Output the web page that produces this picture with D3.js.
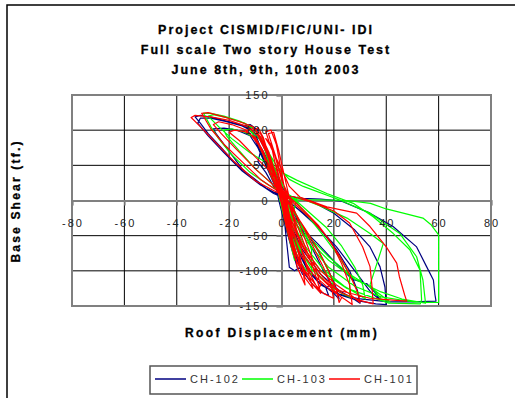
<!DOCTYPE html>
<html>
<head>
<meta charset="utf-8">
<script src="https://cdn.jsdelivr.net/npm/d3@7"></script>
<style>
  html, body { margin: 0; padding: 0; background: #fff; }
  svg { display: block; }
  text { font-family: "Liberation Sans", Arial, sans-serif; }
</style>
</head>
<body>
<script>
// ---------- DATA ----------
const titleLines = ["Project CISMID/FIC/UNI- IDI", "Full scale Two story House Test", "June 8th, 9th, 10th 2003"];
const xLabel = "Roof Displacement (mm)";
const yLabel = "Base Shear (tf.)";
const xTicks = [-80, -60, -40, -20, 0, 20, 40, 60, 80];
const yTicks = [-150, -100, -50, 0, 50, 100, 150];
const seriesNames = ["CH-102", "CH-103", "CH-101"];
const seriesColors = ["#000080", "#00ff00", "#ff0000"];

// CH-102 (displacement mm, base shear tf)
const ch102 = [
  [0,0],[1,-20],[3,-50],[5,-80],[6,-95],[4,-70],[1,-30],[-1,0],[-3,35],[-6,75],[-8,90],[-6,70],[-3,35],[0,0],
  [2,-30],[5,-70],[8,-100],[12,-120],[15,-130],[18,-135],[17,-125],[19,-118],[16,-100],[12,-70],[7,-35],[3,-5],[0,15],
  [-3,40],[-7,70],[-11,95],[-14,107],[-12,108],[-9,100],[-10,85],[-8,70],[-9,55],[-6,40],[-3,20],[0,5],
  [1,-25],[2,-60],[3,-95],[5,-100],[7,-95],
  [3,-40],[8,-85],[14,-115],[20,-132],[22,-140],[21,-125],[18,-100],[14,-72],[9,-42],[4,-15],[0,5],
  [-3,10],[-9,25],[-15,45],[-20,70],[-25,95],[-26,102],[-22,103],[-17,100],[-12,92],[-9,75],[-6,50],[-3,25],[0,0],
  [10,-100],[16,-122],[22,-134],[30,-143],[36,-147],[40,-148],[39.5,-123],[37.6,-94],[33.8,-66],[28,-42],[20,-18],[12,-2],[5,5],
  [0,8],[-5,15],[-10,30],[-17,50],[-23,75],[-28,95],[-31,110],[-33,119],[-31,121],[-26,118],[-20,112],[-14,106],[-12,104],
  [-10,90],[-8,70],[-6,50],[-3,25],[0,0],
  [3,-30],[8,-70],[15,-105],[22,-128],[28,-141],[30,-146],[29,-128],[26,-100],[21,-70],[15,-42],[9,-20],[3,-2],
  [4,-20],[8,-40],[14,-62],[21,-90],[27,-112],[32.5,-118],[36,-132],[37.6,-141],[34,-130],[28,-100],[21,-66],[14,-38],[8,-18],[3,-2],
  [-2,10],[-8,22],[-15,42],[-22,68],[-28,92],[-32,110],[-31,117],[-27,117],[-21,112],[-15,106],[-11,98],[-9,80],[-7,60],[-4,35],[0,5],
  [3,-35],[6,-70],[10,-100],[15,-120],[22,-133],[30,-140],[41,-144],[50,-144],[59,-143],[58.6,-134],[58,-113],
  [55.4,-94],[51.6,-66],[42.6,-37],[33.8,-18],[23,-1],[15,2],[8,3],
  [3,5],[0,20],[-4,55],[-8,85],[-10,95],[-8,75],[-4,35],[0,0],[3,-40],[6,-85],[8,-105],[6,-80],[2,-30],[0,0]
];

// CH-103
const ch103 = [
  [0,0],[2,-35],[4,-70],[5,-85],[3,-55],[0,-10],[-2,25],[-5,60],[-7,80],[-5,55],[-2,20],[0,0],
  [3,-40],[6,-80],[9,-97],[11.5,-106],[11.5,-70],[9,-45],[5,-15],[2,10],[-2,40],[-6,75],[-10,95],[-12,100],[-10,90],[-7,65],[-4,35],[0,5],
  [3,-35],[8,-75],[14,-105],[18,-120],[20,-128],[19,-110],[16,-85],[12,-58],[7,-30],[3,-8],[0,10],
  [-4,25],[-10,45],[-16,70],[-21,92],[-22,100],[-19,102],[-14,97],[-10,88],[-7,68],[-4,40],[-1,12],
  [3,-30],[7,-70],[12,-100],[18,-120],[23,-132],[26,-137],[26,-105],[22,-80],[16,-50],[10,-22],[5,0],[0,12],
  [-5,22],[-12,40],[-19,65],[-24,88],[-27,105],[-29.8,124],[-27,124],[-22,120],[-16,113],[-11,104],[-8,90],[-5,65],[-2,35],[1,5],
  [4,-30],[9,-65],[16,-98],[24,-122],[30,-135],[32,-140],[31,-120],[28,-95],[23,-65],[17,-38],[10,-15],[4,5],
  [4,-30],[8,-65],[15,-100],[25,-125],[35,-138],[41,-146],[53,-147],[53.5,-141],[52.9,-99],[49,-70],[42.7,-47],[35,-23],[27.4,-4],[17.3,10],[5.8,29],
  [0,40],[-5,52],[-12,68],[-19,88],[-24,105],[-28,120],[-26,122],[-20,117],[-14,110],[-10,100],[-7,80],[-4,50],[0,10],
  [4,-25],[10,-55],[18,-85],[28,-112],[38,-130],[46,-140],[55,-146],[54,-113],[51.6,-80],[45.2,-47],[33.8,-18],[22.3,0.7],[8.3,20],
  [3,30],[-2,50],[-6,75],[-9,92],[-7,85],[-4,55],[0,15],
  [4,-20],[10,-50],[18,-80],[26,-105],[33.8,-123],[41.4,-144],[38,-140],[33.8,-120],[38.9,-61],[33.8,-47],[25,-25],[15,-8],[6,5],
  [4,-25],[10,-60],[18,-95],[28,-122],[38,-137],[50,-144],[60,-145],[60,-100],[60,-49],[57,-34],[54,-25],[46.5,-18],[40,-12],[34,-4],[25,0],[15,1],[6,1],
  [2,10],[-2,40],[-5,70],[-3,45],[0,10],[3,-40],[7,-80],[5,-50],[2,-10]
];

// CH-101
const ch101 = [
  [0,0],[1,-25],[3,-55],[5,-80],[6,-90],[4,-60],[1,-20],[-1,10],[-3,40],[-6,75],[-7,85],[-5,60],[-2,25],[0,-5],
  [2,-40],[5,-80],[7.7,-101],[6,-80],[3,-40],[0,0],[-3,40],[-7,80],[-10,100],[-9,104],[-7,90],[-4,55],[-1,15],
  [2,-30],[5,-70],[9,-100],[13,-120],[16,-132],[19.8,-139],[19,-120],[16,-95],[12,-65],[8,-35],[4,-10],[0,15],
  [-4,45],[-8,75],[-12,95],[-13.3,100],[-11,102],[-8,95],[-5,70],[-2,35],[1,0],
  [3,-45],[7,-90],[11,-115],[15,-132],[14,-118],[12,-95],[9,-65],[6,-35],[3,-5],[0,20],
  [-4,40],[-10,62],[-16,85],[-20,97],[-18,100],[-14,98],[-10,90],[-7,70],[-4,40],[-1,10],
  [3,-35],[7,-75],[12,-105],[18,-125],[24,-140],[27,-148],[26,-120],[23,-90],[19,-60],[14,-35],[8,-12],[3,5],
  [-2,15],[-8,30],[-15,55],[-22,80],[-27,102],[-30.5,124],[-28,125],[-22,119],[-16,112],[-11,105],[-8,90],[-5,65],[-2,30],[1,-5],
  [4,-40],[9,-80],[15,-110],[20,-128],[23,-138],[22,-145],[21,-128],[18,-100],[14,-70],[9,-40],[4,-12],[0,10],
  [-4,25],[-10,45],[-17,72],[-23,95],[-26,108],[-24,112],[-19,108],[-14,101],[-10,88],[-7,65],[-4,35],[0,0],
  [4,-40],[9,-80],[15,-110],[22,-130],[30,-142],[35,-147],[34.5,-120],[33.8,-94],[31,-66],[26,-32],[20,-15],[12,-3],[5,5],
  [-2,12],[-10,28],[-18,55],[-25,82],[-31,105],[-34.5,118],[-33,121],[-27,119],[-20,114],[-13,105],[-9,92],[-6,70],[-3,40],[0,8],
  [4,-30],[9,-70],[15,-100],[21,-120],[26,-133],[30,-145],[29,-130],[26,-105],[22,-78],[17,-50],[11,-25],[5,-5],[1,10],
  [4,-35],[10,-80],[16,-110],[22,-128],[33.8,-139],[40,-141],[47.8,-143],[47,-134],[45,-108],[44,-89],[40,-66],[33.8,-37],[28.7,-18],[17.3,-9],[7,5],
  [3,20],[0,45],[-4,75],[-6,98],[-4,100],[-2,80],[0,40],[2,0],[4,-40],[7,-80],[9,-110],[12,-125],[10,-100],[7,-60],[4,-20],
  [1,20],[-2,60],[-5,95],[-3,97],[-1,70],[2,20],[5,-30],[8,-75],[11,-105],[14,-127],[15,-120],[12,-85],[8,-45],[4,-5],
  [0,30],[-3,70],[-6,88],[-4,80],[-2,45],[1,0],[4,-50],[6,-95],[9,-120],[8,-95],[5,-55],[2,-10],[0,20],[-2,50],[0,10]
];

const seriesData = [ch102, ch103, ch101];

// ---------- DRAW ----------
const W = 515, H = 398;
const svg = d3.select("body").append("svg").attr("width", W).attr("height", H);

// outer frame (left + top edges visible)
svg.append("path").attr("d", "M7,398 V5 H515").attr("fill", "none").attr("stroke", "#000").attr("stroke-width", 1.5);

const x = d3.scaleLinear().domain([-80, 80]).range([72, 491]);
const y = d3.scaleLinear().domain([-150, 150]).range([306, 95]);

// titles
const titleY = [34, 54, 74];
titleLines.forEach((t, i) => {
  svg.append("text").attr("x", 266).attr("y", titleY[i]).attr("text-anchor", "middle")
    .attr("font-size", 12.5).attr("font-weight", "bold").attr("letter-spacing", 2).attr("fill", "#000")
    .attr("stroke", "#000").attr("stroke-width", 0.3).text(t);
});

// grid
const g = svg.append("g");
g.selectAll("line.vg").data(xTicks).join("line").attr("class", "vg")
  .attr("x1", d => x(d)).attr("x2", d => x(d)).attr("y1", y(150)).attr("y2", y(-150))
  .attr("stroke", "#000").attr("stroke-width", 1);
g.selectAll("line.hg").data(yTicks).join("line").attr("class", "hg")
  .attr("x1", x(-80)).attr("x2", x(80)).attr("y1", d => y(d)).attr("y2", d => y(d))
  .attr("stroke", "#000").attr("stroke-width", 1);
// plot border
g.append("rect").attr("x", x(-80)).attr("y", y(150)).attr("width", x(80) - x(-80)).attr("height", y(-150) - y(150))
  .attr("fill", "none").attr("stroke", "#808080").attr("stroke-width", 2);

// axes through zero
const xAxis = d3.axisBottom(x).tickValues(xTicks).tickSize(5).tickFormat("");
const xa = svg.append("g").attr("transform", `translate(0,${y(0)})`).call(xAxis);
xa.select(".domain").attr("stroke", "#808080").attr("stroke-width", 2);
xa.selectAll(".tick line").attr("stroke", "#808080").attr("stroke-width", 1.5);

const yAxis = d3.axisLeft(y).tickValues(yTicks).tickSize(5).tickFormat("");
const ya = svg.append("g").attr("transform", `translate(${x(0)},0)`).call(yAxis);
ya.select(".domain").attr("stroke", "#808080").attr("stroke-width", 2);
ya.selectAll(".tick line").attr("stroke", "#808080").attr("stroke-width", 1.5);

// series
const line = d3.line().x(d => x(d[0])).y(d => y(d[1]));
seriesData.forEach((data, i) => {
  svg.append("path").datum(data).attr("d", line).attr("fill", "none")
    .attr("stroke", seriesColors[i]).attr("stroke-width", 1.2).attr("stroke-linejoin", "round");
});

// tick labels (drawn on top)
svg.selectAll("text.xt").data(xTicks).join("text").attr("class", "xt")
  .attr("x", d => x(d) + 1).attr("y", y(0) + 26).attr("text-anchor", "middle")
  .attr("font-size", 11).attr("letter-spacing", 2).attr("fill", "#222").text(d => d);
svg.selectAll("text.yt").data(yTicks).join("text").attr("class", "yt")
  .attr("x", x(0) - 12).attr("y", d => y(d) + 4).attr("text-anchor", "end")
  .attr("font-size", 11).attr("letter-spacing", 2).attr("fill", "#222").text(d => d);

// axis titles
svg.append("text").attr("x", 282).attr("y", 337).attr("text-anchor", "middle")
  .attr("font-size", 12).attr("font-weight", "bold").attr("letter-spacing", 2.4)
  .attr("stroke", "#000").attr("stroke-width", 0.3).text(xLabel);
svg.append("text").attr("transform", "translate(20,201) rotate(-90)").attr("text-anchor", "middle")
  .attr("font-size", 12).attr("font-weight", "bold").attr("letter-spacing", 2.2)
  .attr("stroke", "#000").attr("stroke-width", 0.3).text(yLabel);

// legend
const lg = svg.append("g");
lg.append("rect").attr("x", 150).attr("y", 366).attr("width", 267).attr("height", 28)
  .attr("fill", "#fff").attr("stroke", "#555").attr("stroke-width", 1.5);
const legX = [155, 242, 329];
seriesNames.forEach((n, i) => {
  lg.append("line").attr("x1", legX[i]).attr("x2", legX[i] + 31).attr("y1", 379).attr("y2", 379)
    .attr("stroke", seriesColors[i]).attr("stroke-width", 1.5);
  lg.append("text").attr("x", legX[i] + 35).attr("y", 383).attr("font-size", 11).attr("letter-spacing", 2)
    .attr("fill", "#333").text(n);
});
</script>
</body>
</html>
